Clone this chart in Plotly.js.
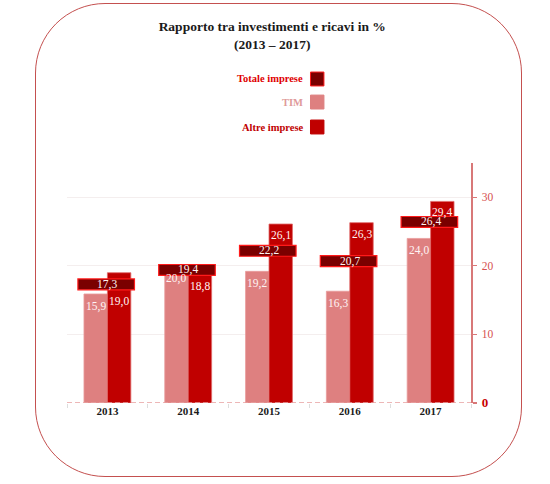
<!DOCTYPE html>
<html>
<head>
<meta charset="utf-8">
<script src="https://cdn.plot.ly/plotly-3.0.1.min.js"></script>
<style>
  body { margin: 0; background: #fff; }
  #wrap { position: relative; width: 550px; height: 484px; }
  #chart { width: 550px; height: 484px; }
  #frame {
    position: absolute; left: 35px; top: 3px; width: 487px; height: 474px;
    box-sizing: border-box; border: 1.5px solid #c4504f; border-radius: 70px;
    pointer-events: none;
  }
</style>
</head>
<body>
<div id="wrap"><div id="chart"></div><div id="frame"></div></div>
<script>
// data
const years = ["2013", "2014", "2015", "2016", "2017"];
const tim = [15.9, 20.0, 19.2, 16.3, 24.0];
const altre = [19.0, 18.8, 26.1, 26.3, 29.4];
const totale = [17.3, 19.4, 22.2, 20.7, 26.4];
const yTicks = [0, 10, 20, 30];
const yTickLabels = ["0", "10", "20", "30"];
const seriesNames = ["Totale imprese", "TIM", "Altre imprese"];

const SERIF = "Liberation Serif, DejaVu Serif, serif";
const C_TOT = "#7a0000";
const C_TIM = "#de8080";
const C_ALT = "#c00000";

const BAR_W = 0.29;     // width of one bar, in category units
const BOX_W = 0.70;     // width of the "totale" box
const BOX_H = 1.6;      // height of the "totale" box, in % units

const fmt = v => v.toFixed(1).replace(".", ",");

const traces = [
  {
    type: "bar", name: "TIM", x: years, y: tim,
    offset: -BAR_W, width: BAR_W,
    marker: { color: C_TIM, line: { color: "#e89a9a", width: 0.8 } },
    hoverinfo: "skip"
  },
  {
    type: "bar", name: "Altre imprese", x: years, y: altre,
    offset: 0, width: BAR_W,
    marker: { color: C_ALT, line: { color: "#e06a6a", width: 0.8 } },
    hoverinfo: "skip"
  },
  {
    type: "bar", name: "Totale imprese", x: years,
    y: totale.map(() => BOX_H),
    base: totale.map(v => v - BOX_H / 2),
    offset: -0.365, width: BOX_W,
    marker: { color: C_TOT, line: { color: "#ff1a1a", width: 1.2 } },
    hoverinfo: "skip"
  }
];

// value labels
const labelFont = { family: SERIF, size: 11.5, color: "#fff4f4" };
const annotations = [];
years.forEach((yr, i) => {
  annotations.push({
    x: i - BAR_W / 2, y: tim[i], xref: "x", yref: "y",
    text: fmt(tim[i]), showarrow: false, yanchor: "top", yshift: -4,
    font: labelFont
  });
  // if the box sits just on top of the bar, the label goes under it
  const boxTop = totale[i] + BOX_H / 2;
  const boxBot = totale[i] - BOX_H / 2;
  const altY = altre[i] > boxTop + 2 ? altre[i] : Math.min(altre[i], boxBot);
  annotations.push({
    x: i + BAR_W / 2, y: altY, xref: "x", yref: "y",
    text: fmt(altre[i]), showarrow: false, yanchor: "top", yshift: -3,
    font: labelFont
  });
  annotations.push({
    x: i, y: totale[i], xref: "x", yref: "y",
    text: fmt(totale[i]), showarrow: false, yanchor: "middle",
    font: labelFont
  });
});

// legend (text on the left of the swatch)
const legendColors = [C_TOT, C_TIM, C_ALT];
const legendBorders = ["#ff1a1a", C_TIM, C_ALT];
const legendText = ["#e00000", "#e09a9a", "#c00000"];
const legendY = [1.35, 1.254, 1.15];
const shapes = [];
seriesNames.forEach((nm, k) => {
  annotations.push({
    x: 0.589, y: legendY[k], xref: "paper", yref: "paper",
    xanchor: "right", yanchor: "middle", showarrow: false,
    text: "<b>" + nm + "</b>",
    font: { family: SERIF, size: 10.5, color: legendText[k] }
  });
  shapes.push({
    type: "rect", xref: "paper", yref: "paper",
    x0: 0.6027, x1: 0.636, y0: legendY[k] - 0.029, y1: legendY[k] + 0.029,
    fillcolor: legendColors[k], line: { color: legendBorders[k], width: 1 }
  });
});

// dashed baseline
shapes.push({
  type: "line", xref: "paper", yref: "y", x0: 0, x1: 1, y0: 0, y1: 0,
  line: { color: "#e8a0a0", width: 1.5, dash: "5px,3px" }
});

const layout = {
  width: 550, height: 484,
  margin: { l: 67, r: 79, t: 163, b: 81 },
  paper_bgcolor: "#fff", plot_bgcolor: "#fff",
  barmode: "overlay",
  showlegend: false,
  title: {
    text: "<b>Rapporto tra investimenti e ricavi in %<br>(2013 – 2017)</b>",
    font: { family: SERIF, size: 13.5, color: "#1a1a1a" },
    xref: "container", x: 0.495, xanchor: "center",
    yref: "container", y: 0.935, yanchor: "top"
  },
  xaxis: {
    type: "category", range: [-0.5, 4.5],
    tickson: "boundaries", ticks: "outside", ticklen: 4, tickcolor: "#dddddd",
    showline: false, showgrid: false, zeroline: false,
    tickfont: { family: SERIF, size: 11, color: "#1a1a1a", weight: "bold" }
  },
  yaxis: {
    side: "right", range: [0, 35],
    tickvals: yTicks,
    ticktext: yTickLabels.map(t => t === "0"
      ? '<span style="font-size:13px;color:#c80000"><b>0</b></span>' : t),
    showline: true, linecolor: "#d87878", linewidth: 1.5,
    ticks: "outside", ticklen: 4, tickcolor: "#d87878", tickwidth: 1.2,
    ticklabelstandoff: 3,
    showgrid: true, gridcolor: "#f4eeee", zeroline: false,
    tickfont: { family: SERIF, size: 11.5, color: "#d65050" }
  },
  annotations: annotations,
  shapes: shapes
};

Plotly.newPlot("chart", traces, layout, { displayModeBar: false, staticPlot: true });
</script>
</body>
</html>
